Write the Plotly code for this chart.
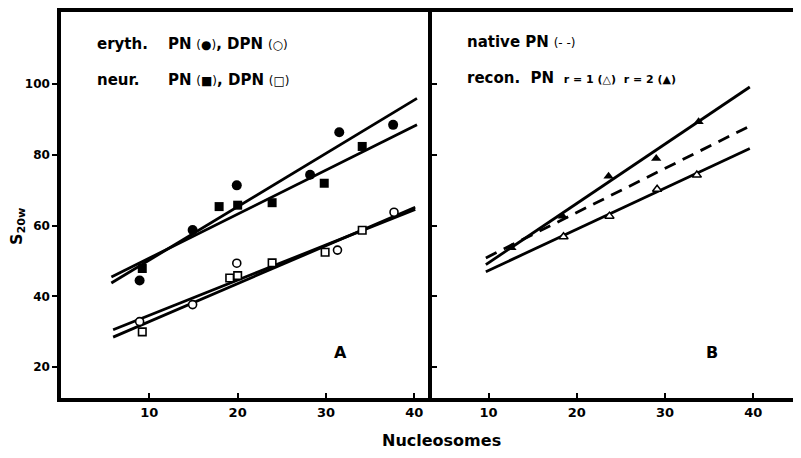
import plotly.graph_objects as go
from plotly.subplots import make_subplots

# ---------------- data ----------------
# Panel A
ery_pn_x = [8.9, 14.9, 19.9, 28.2, 31.5, 37.6]
ery_pn_y = [44.5, 58.8, 71.4, 74.4, 86.4, 88.5]
neur_pn_x = [9.2, 17.9, 20.0, 23.9, 29.8, 34.1]
neur_pn_y = [47.9, 65.4, 65.8, 66.5, 72.0, 82.4]
ery_dpn_x = [8.9, 14.9, 19.9, 31.3, 37.7]
ery_dpn_y = [32.9, 37.7, 49.4, 53.1, 63.8]
neur_dpn_x = [9.2, 19.1, 20.0, 23.9, 29.9, 34.1]
neur_dpn_y = [30.0, 45.2, 45.9, 49.5, 52.5, 58.7]

fitA_upper_x = [5.7, 40.3]
ery_pn_fit_y = [43.8, 96.0]
neur_pn_fit_y = [45.5, 88.5]
fitA_lower_x = [5.9, 40.1]
ery_dpn_fit_y = [30.6, 64.6]
neur_dpn_fit_y = [28.5, 65.2]

# Panel B
r2_x = [12.6, 18.4, 23.6, 29.0, 33.8]
r2_y = [53.8, 62.7, 74.0, 79.0, 89.4]
r1_x = [18.5, 23.7, 29.1, 33.6]
r1_y = [56.9, 62.7, 70.3, 74.3]

fitB_x = [9.7, 39.6]
r2_fit_y = [49.0, 99.2]
r1_fit_y = [47.0, 81.8]
native_fit_x = [9.7, 39.3]
native_fit_y = [50.9, 87.8]

x_ticks = [10, 20, 30, 40]
y_ticks = [20, 40, 60, 80, 100]
y_tick_labels = ["20", "40", "60", "80", "100"]

# ---------------- figure ----------------
# the page body has an 8px margin, so the figure is drawn 8px in from the corner
OFF = 8
W, H = 801 - OFF, 458 - 2 * OFF
FONT = "DejaVu Sans"
fig = make_subplots(rows=1, cols=2)

def px(x):
    return (x - OFF) / W

def py(y):
    return 1 - (y - OFF) / H

line_kw = dict(color="black", width=2.8)

# Panel A lines
for fx, fy in [(fitA_upper_x, ery_pn_fit_y), (fitA_upper_x, neur_pn_fit_y),
               (fitA_lower_x, ery_dpn_fit_y), (fitA_lower_x, neur_dpn_fit_y)]:
    fig.add_trace(go.Scatter(x=fx, y=fy, mode="lines", line=line_kw,
                             showlegend=False, hoverinfo="skip"), row=1, col=1)

fig.add_trace(go.Scatter(x=ery_pn_x, y=ery_pn_y, mode="markers",
                         marker=dict(symbol="circle", size=10, color="black"),
                         showlegend=False), row=1, col=1)
fig.add_trace(go.Scatter(x=neur_pn_x, y=neur_pn_y, mode="markers",
                         marker=dict(symbol="square", size=9, color="black"),
                         showlegend=False), row=1, col=1)
fig.add_trace(go.Scatter(x=ery_dpn_x, y=ery_dpn_y, mode="markers",
                         marker=dict(symbol="circle", size=8, color="white",
                                     line=dict(color="black", width=1.6)),
                         showlegend=False), row=1, col=1)
fig.add_trace(go.Scatter(x=neur_dpn_x, y=neur_dpn_y, mode="markers",
                         marker=dict(symbol="square", size=7.5, color="white",
                                     line=dict(color="black", width=1.6)),
                         showlegend=False), row=1, col=1)

# Panel B lines
fig.add_trace(go.Scatter(x=fitB_x, y=r2_fit_y, mode="lines", line=line_kw,
                         showlegend=False, hoverinfo="skip"), row=1, col=2)
fig.add_trace(go.Scatter(x=fitB_x, y=r1_fit_y, mode="lines", line=line_kw,
                         showlegend=False, hoverinfo="skip"), row=1, col=2)
fig.add_trace(go.Scatter(x=native_fit_x, y=native_fit_y, mode="lines",
                         line=dict(color="black", width=2.8, dash="12px,8px"),
                         showlegend=False, hoverinfo="skip"), row=1, col=2)
fig.add_trace(go.Scatter(x=r2_x, y=r2_y, mode="markers",
                         marker=dict(symbol="triangle-up", size=9, color="black"),
                         showlegend=False), row=1, col=2)
fig.add_trace(go.Scatter(x=r1_x, y=r1_y, mode="markers",
                         marker=dict(symbol="triangle-up", size=8, color="white",
                                     line=dict(color="black", width=1.5)),
                         showlegend=False), row=1, col=2)

x0, xmid, x1 = 61, 432, 801
ytop, ybot = 12, 398
xtickfont = dict(family=FONT, size=13, color="black")
ytickfont = dict(family=FONT, size=12, color="black")
axis_common = dict(showgrid=False, zeroline=False, showline=True,
                   linecolor="black", linewidth=3.5, ticklen=5, tickwidth=2,
                   tickcolor="black", automargin=False)

fig.update_layout(
    width=W, height=H,
    margin=dict(l=0, r=0, t=0, b=0),
    paper_bgcolor="white", plot_bgcolor="white",
    showlegend=False,
    font=dict(family=FONT, color="black"),
    xaxis=dict(domain=[px(x0), px(xmid)], range=[0, 42], tickvals=x_ticks,
               ticktext=["<b>%d</b>" % v for v in x_ticks], tickfont=xtickfont,
               ticks="inside", mirror=True, **axis_common),
    yaxis=dict(domain=[py(ybot), py(ytop)], range=[11.3, 120.4], tickvals=y_ticks,
               ticktext=["<b>%s</b>" % t for t in y_tick_labels], tickfont=ytickfont,
               ticks="outside", mirror=False, **axis_common),
    xaxis2=dict(domain=[px(xmid), px(x1)], range=[3.6, 45.4], tickvals=x_ticks,
                ticktext=["<b>%d</b>" % v for v in x_ticks], tickfont=xtickfont,
                ticks="inside", mirror=True, **axis_common),
    yaxis2=dict(domain=[py(ybot), py(ytop)], range=[11.3, 120.4], tickvals=y_ticks,
                showticklabels=False, ticks="inside", mirror=False, **axis_common),
)

sm = "font-size:12px;font-weight:normal"
ann = []
def add_text(x, y, text, size=15, anchor="left"):
    ann.append(dict(x=px(x), y=py(y), xref="paper", yref="paper", text=text,
                    showarrow=False, xanchor=anchor, yanchor="middle",
                    font=dict(family=FONT, size=size, color="black")))

add_text(95, 44, "<b>eryth.</b>")
add_text(166, 44, "<b>PN</b> <span style='%s'>(●)</span><b>, DPN</b> <span style='%s'>(○)</span>" % (sm, sm))
add_text(95, 80, "<b>neur.</b>")
add_text(166, 80, "<b>PN</b> <span style='%s'>(■)</span><b>, DPN</b> <span style='%s'>(□)</span>" % (sm, sm))
add_text(465, 42, "<b>native PN</b> <span style='%s'>(- -)</span>" % sm)
add_text(465, 78, "<b>recon.  PN</b>  <span style='font-size:11px'><b>r = 1 (△)  r = 2 (▲)</b></span>")

add_text(340, 352, "<b>A</b>", size=16, anchor="center")
add_text(712, 352, "<b>B</b>", size=16, anchor="center")
add_text(441, 440, "<b>Nucleosomes</b>", size=16, anchor="center")

ann.append(dict(x=px(17), y=py(227), xref="paper", yref="paper",
                text="<b>S<sub>20w</sub></b>", textangle=-90, showarrow=False,
                xanchor="center", yanchor="middle",
                font=dict(family=FONT, size=16, color="black")))
fig.update_layout(annotations=ann)

fig.write_html("out.html")
